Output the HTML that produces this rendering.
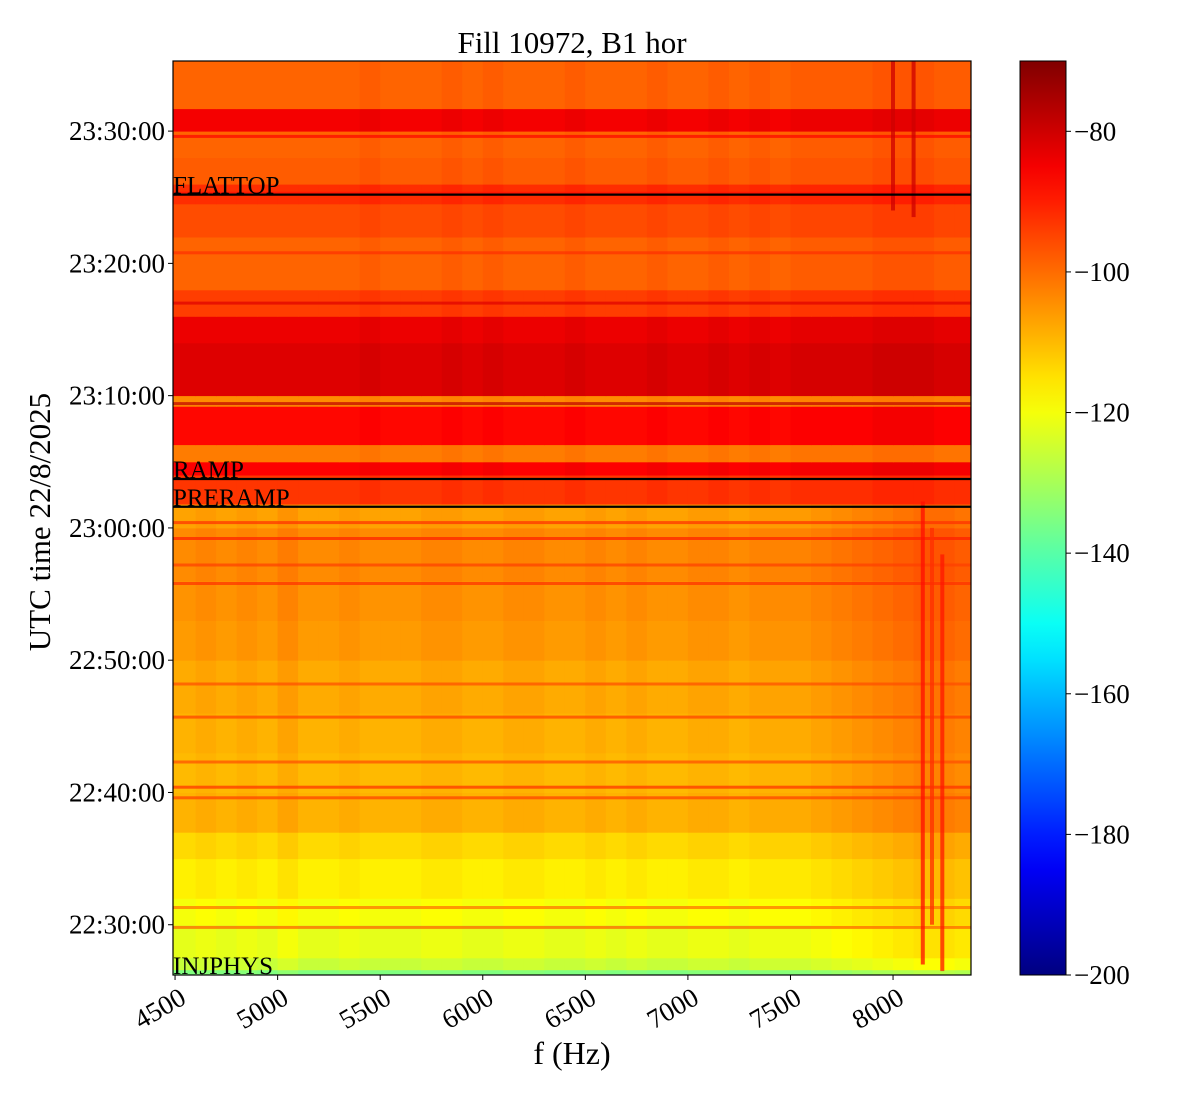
<!DOCTYPE html>
<html><head><meta charset="utf-8">
<style>
html,body{margin:0;padding:0;background:#fff;}
svg{display:block;font-family:"Liberation Serif","DejaVu Serif",serif;}
</style></head>
<body>
<svg id="chart" width="1200" height="1100" viewBox="0 0 1200 1100" xmlns="http://www.w3.org/2000/svg">
<defs>
<linearGradient id="jetgrad" x1="0" y1="1" x2="0" y2="0"></linearGradient>
<clipPath id="plotclip"><rect x="173" y="61" width="798" height="914"/></clipPath>
</defs>
<text x="572" y="53" font-size="31" text-anchor="middle">Fill 10972, B1 hor</text>
<g id="heat" clip-path="url(#plotclip)"></g>
<g id="annot"></g>
<rect x="173" y="61" width="798" height="914" fill="none" stroke="#000" stroke-width="1.2"/>
<g id="xaxis"></g>
<g id="yaxis"></g>
<text x="572" y="1064" font-size="32" text-anchor="middle">f (Hz)</text>
<text transform="translate(50,522) rotate(-90)" font-size="31" text-anchor="middle">UTC time 22/8/2025</text>
<rect x="1020" y="61" width="46" height="914" fill="url(#jetgrad)" stroke="#000" stroke-width="1"/>
<g id="cbaxis"></g>
</svg>
<script>
// ---- data ----
const bandStart = [26.2, 26.6, 27.5, 30, 32, 35, 37, 40, 43, 46, 50, 53, 56, 60, 61.8, 64, 65, 66.3, 69.2, 70, 74, 76, 78, 82, 84.5, 86, 88, 90, 91.7];
const bandLevel = [-135, -126, -122, -120, -117, -114, -109, -110, -109, -108, -106, -105, -104, -107, -93, -86, -102, -87, -104, -82, -84, -94, -99, -96, -92, -98, -99, -85, -99];
const lineTime = [29.8, 31.3, 39.6, 40.4, 42.3, 45.7, 48.2, 55.8, 57.2, 59.2, 60.4, 69.4, 77.0, 80.8, 85.3, 89.6];
const lineLevel = [-98, -100, -94, -92, -96, -94, -96, -92, -94, -90, -92, -78, -82, -92, -88, -86];
const freqBins = [4490,4600,4700,4800,4900,5000,5100,5200,5300,5400,5500,5600,5700,5800,5900,6000,6100,6200,6300,6400,6500,6600,6700,6800,6900,7000,7100,7200,7300,7400,7500,7600,7700,7800,7900,8000,8100,8200,8300,8380];
const offsetLow = [0,1,0,1,0,2,0,0,1,0,0,0,1,1,0,0,1,1,0,0,1,0,1,0,0,1,1,0,1,1,1,2,3,4,5,6,7,7,6];
const offsetHigh = [0,0,0,0,0,0,0,0,0,1,0,0,0,1,0,1,0,0,0,1,0,0,0,1,0,0,1,0,1,0,1,1,1,1,2,2,2,1,1];
const streakFreq = [8000, 8100, 8145, 8240, 8190];
const streakFrom = [84.0, 83.5, 27, 26.5, 30];
const streakTo = [95.3, 95.3, 62, 58, 60];
const streakLevel = [-80, -80, -88, -89, -92];
const eventNames = ["FLATTOP", "RAMP", "PRERAMP", "INJPHYS"];
const eventTimes = [85.2, 63.7, 61.6, 26.2];
const xTicks = [4500,5000,5500,6000,6500,7000,7500,8000];
const yTicks = [30,40,50,60,70,80,90];
const yTickLabels = ["22:30:00","22:40:00","22:50:00","23:00:00","23:10:00","23:20:00","23:30:00"];
const cTicks = [-80,-100,-120,-140,-160,-180,-200];

// ---- scales ----
const X0=173, X1=971, Y0=61, Y1=975;
const fMin=4490, fMax=8380, tMin=26.2, tMax=95.3, vMin=-200, vMax=-70;
const xs = f => X0 + (f-fMin)/(fMax-fMin)*(X1-X0);
const ys = t => Y1 - (t-tMin)/(tMax-tMin)*(Y1-Y0);
const cs = v => Y1 - (v-vMin)/(vMax-vMin)*(Y1-Y0);
function jet(v){
  let x=(v-vMin)/(vMax-vMin); x=Math.max(0,Math.min(1,x));
  const c=a=>Math.round(255*Math.max(0,Math.min(1,a)));
  const r=c(1.5-Math.abs(4*x-3)), g=c(1.5-Math.abs(4*x-2)), b=c(1.5-Math.abs(4*x-1));
  return `rgb(${r},${g},${b})`;
}
const NS="http://www.w3.org/2000/svg";
function mk(tag, attrs, parent){const e=document.createElementNS(NS,tag);for(const k in attrs)e.setAttribute(k,attrs[k]);parent.appendChild(e);return e;}

const grad=document.getElementById('jetgrad');
for(let i=0;i<=26;i++){const v=vMin+(vMax-vMin)*i/26;mk('stop',{offset:(i/26).toFixed(3),'stop-color':jet(v)},grad);}

const heat=document.getElementById('heat');
for(let i=0;i<bandStart.length;i++){
  const t0=bandStart[i], t1=(i+1<bandStart.length)?bandStart[i+1]:tMax;
  for(let j=0;j<freqBins.length-1;j++){
    const off = t0<61.8 ? offsetLow[j] : offsetHigh[j];
    const x=xs(freqBins[j]), w=xs(freqBins[j+1])-x+0.5;
    const r=mk('rect',{x:x.toFixed(1),y:ys(t1).toFixed(1),width:w.toFixed(1),height:(ys(t0)-ys(t1)+0.5).toFixed(1),fill:jet(bandLevel[i]+off)},heat);
    
    
  }
}
for(let i=0;i<lineTime.length;i++){
  const y=ys(lineTime[i]);
  const r=mk('rect',{x:X0,y:(y-1.5).toFixed(1),width:X1-X0,height:3,fill:jet(lineLevel[i]),opacity:0.7},heat);
  
  
}
for(let i=0;i<streakFreq.length;i++){
  const x=xs(streakFreq[i]);
  const r=mk('rect',{x:(x-2).toFixed(1),y:ys(streakTo[i]).toFixed(1),width:4,height:(ys(streakFrom[i])-ys(streakTo[i])).toFixed(1),fill:jet(streakLevel[i]),opacity:0.75},heat);
  
  
}

const annot=document.getElementById('annot');
for(let i=0;i<eventNames.length;i++){
  const y=ys(eventTimes[i]);
  if(i<3){
    const l=mk('line',{x1:X0,x2:X1,y1:y,y2:y,stroke:'#000','stroke-width':2.2},annot);
    
    
  }
  const t=mk('text',{x:X0,y:(y-1).toFixed(1),'font-size':25},annot);
  t.textContent=eventNames[i];
  
  
}

const xa=document.getElementById('xaxis');
xTicks.forEach(f=>{
  const x=xs(f);
  const l=mk('line',{x1:x,x2:x,y1:Y1,y2:Y1+5,stroke:'#000','stroke-width':1},xa);
  
  
  const t=mk('text',{transform:`translate(${x+3},${Y1+11}) rotate(-30)`,'font-size':27,'text-anchor':'end','dominant-baseline':'hanging'},xa);
  t.textContent=String(f);
  
  
});
const ya=document.getElementById('yaxis');
yTicks.forEach((tv,i)=>{
  const y=ys(tv);
  const l=mk('line',{x1:X0-5,x2:X0,y1:y,y2:y,stroke:'#000','stroke-width':1},ya);
  
  
  const t=mk('text',{x:X0-8,y:y+9,'font-size':27,'text-anchor':'end'},ya);
  t.textContent=yTickLabels[i];
  
  
});
const ca=document.getElementById('cbaxis');
cTicks.forEach(v=>{
  const y=cs(v);
  const l=mk('line',{x1:1066,x2:1071,y1:y,y2:y,stroke:'#000','stroke-width':1},ca);
  
  
  const t=mk('text',{x:1074,y:y+9,'font-size':27},ca);
  t.textContent='\u2212'+Math.abs(v);
  
  
});
</script>
</body></html>
